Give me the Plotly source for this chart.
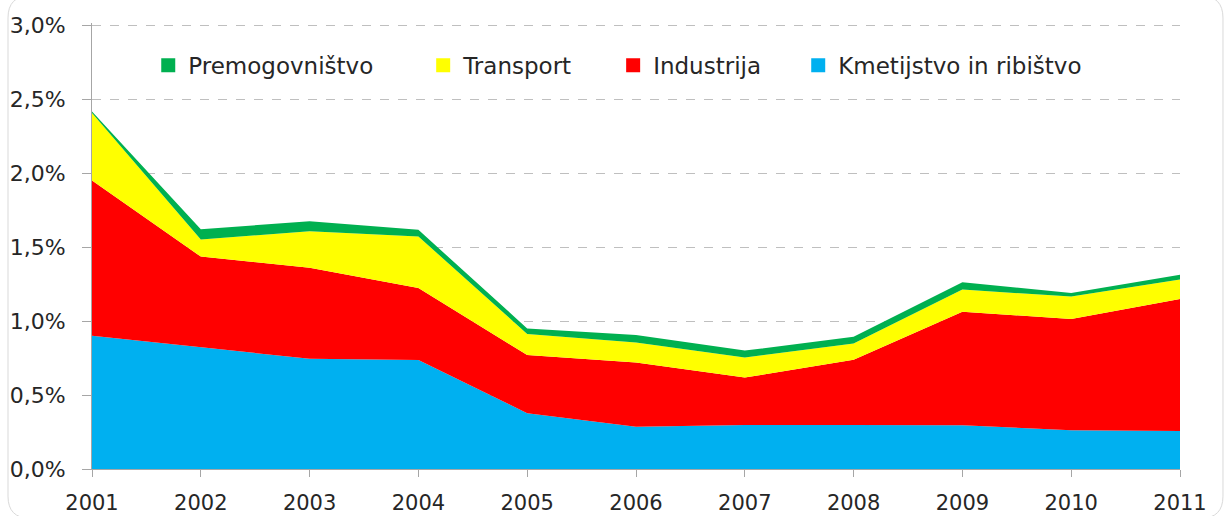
import plotly.graph_objects as go

years = [2001, 2002, 2003, 2004, 2005, 2006, 2007, 2008, 2009, 2010, 2011]
kmetijstvo = [0.90, 0.82, 0.745, 0.736, 0.377, 0.286, 0.298, 0.298, 0.296, 0.262, 0.257]
industrija = [1.05, 0.615, 0.615, 0.487, 0.393, 0.434, 0.320, 0.440, 0.767, 0.751, 0.892]
transport = [0.455, 0.115, 0.247, 0.348, 0.142, 0.135, 0.136, 0.110, 0.149, 0.152, 0.131]
premogovnistvo = [0.010, 0.070, 0.067, 0.045, 0.038, 0.050, 0.046, 0.046, 0.049, 0.025, 0.033]

series = [
    ("Kmetijstvo in ribištvo", kmetijstvo, "#00B0F0"),
    ("Industrija", industrija, "#FF0000"),
    ("Transport", transport, "#FFFF00"),
    ("Premogovništvo", premogovnistvo, "#00B050"),
]

y_ticks = [0, 0.5, 1.0, 1.5, 2.0, 2.5, 3.0]
y_labels = ["0,0%", "0,5%", "1,0%", "1,5%", "2,0%", "2,5%", "3,0%"]
x_labels = [str(y) for y in years]

FONT = "DejaVu Sans"
TXT = "#262626"

fig = go.Figure()
for name, vals, col in series:
    fig.add_trace(go.Scatter(
        x=years, y=vals, name=name, mode="lines",
        stackgroup="one", line=dict(width=0, color=col),
        fillcolor=col, hoverinfo="skip", showlegend=False,
    ))

# legend entries (square swatches), one legend per entry, Excel-like layout
legend_names = ["legend4", "legend3", "legend2", "legend"]
for (name, vals, col), lg in zip(series, legend_names):
    fig.add_trace(go.Scatter(
        x=[None], y=[None], name=name, mode="markers",
        marker=dict(symbol="square", size=14, color=col),
        legend=lg, showlegend=True,
    ))

leg_x = {"legend": 0.0517, "legend2": 0.3044, "legend3": 0.4790, "legend4": 0.6491}
legend_common = dict(
    orientation="h", y=0.905, xanchor="left", yanchor="middle",
    font=dict(family=FONT, size=23, color=TXT),
    bgcolor="rgba(0,0,0,0)", itemwidth=30,
)

fig.update_layout(
    width=1225, height=516,
    margin=dict(l=92, r=45, t=23, b=47, autoexpand=False),
    paper_bgcolor="white", plot_bgcolor="white",
    font=dict(family=FONT, size=20, color=TXT),
    showlegend=True,
    legend=dict(x=leg_x["legend"], **legend_common),
    legend2=dict(x=leg_x["legend2"], **legend_common),
    legend3=dict(x=leg_x["legend3"], **legend_common),
    legend4=dict(x=leg_x["legend4"], **legend_common),
    xaxis=dict(
        range=[2001, 2011], tickmode="array", tickvals=years,
        ticktext=x_labels, automargin=False,
        showgrid=False, zeroline=False,
        showline=True, linecolor="#A6A6A6", linewidth=1,
        ticks="outside", ticklen=7, tickcolor="#A6A6A6",
        ticklabelstandoff=8,
        tickfont=dict(family=FONT, size=21, color=TXT),
    ),
    yaxis=dict(
        range=[0, 3.0135], tickmode="array", tickvals=y_ticks,
        ticktext=y_labels, automargin=False,
        showgrid=True, gridcolor="#BFBFBF", griddash="dash", gridwidth=1,
        zeroline=False,
        showline=True, linecolor="#A6A6A6", linewidth=1,
        ticks="outside", ticklen=9, tickcolor="#A6A6A6",
        ticklabelstandoff=12,
        tickfont=dict(family=FONT, size=22, color=TXT),
    ),
)

# faint rounded chart-area border
x0, x1 = -0.0772, 1.0395
y0, y1 = -0.1104, 1.0608
rx, ry = 0.0202, 0.0495
path = (f"M {x0+rx},{y1} L {x1-rx},{y1} Q {x1},{y1} {x1},{y1-ry} "
        f"L {x1},{y0+ry} Q {x1},{y0} {x1-rx},{y0} L {x0+rx},{y0} "
        f"Q {x0},{y0} {x0},{y0+ry} L {x0},{y1-ry} Q {x0},{y1} {x0+rx},{y1} Z")
fig.add_shape(type="path", path=path, xref="paper", yref="paper",
              line=dict(color="#D9D9D9", width=1), layer="below")

fig.write_html("out.html",
               config={"displayModeBar": False},
               post_script="document.body.style.margin='0';document.body.style.overflow='hidden';")
